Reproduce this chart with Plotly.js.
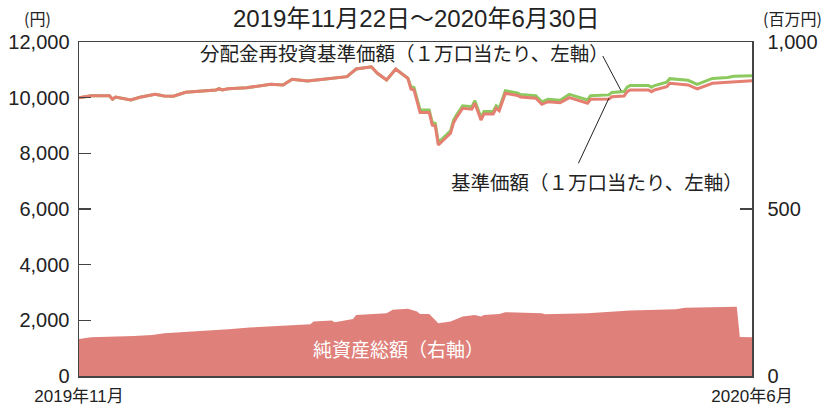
<!DOCTYPE html>
<html>
<head>
<meta charset="utf-8">
<script src="https://cdn.plot.ly/plotly-3.0.1.min.js"></script>
<style>html,body{margin:0;padding:0;background:#fff;}#chart{width:825px;height:410px;}</style>
</head>
<body>
<div id="chart"></div>
<script>
// 基準価額（円, 左軸）
const navDates = ['2019-11-22','2019-11-26','2019-12-02','2019-12-03','2019-12-04','2019-12-09','2019-12-12','2019-12-17','2019-12-20','2019-12-23','2019-12-27','2020-01-02','2020-01-06','2020-01-07','2020-01-08','2020-01-10','2020-01-16','2020-01-24','2020-01-28','2020-01-31','2020-02-05','2020-02-11','2020-02-18','2020-02-21','2020-02-26','2020-02-28','2020-03-02','2020-03-05','2020-03-09','2020-03-10','2020-03-11','2020-03-13','2020-03-16','2020-03-17','2020-03-18','2020-03-19','2020-03-23','2020-03-24','2020-03-25','2020-03-27','2020-03-30','2020-03-31','2020-04-02','2020-04-03','2020-04-06','2020-04-07','2020-04-08','2020-04-10','2020-04-14','2020-04-15','2020-04-20','2020-04-22','2020-04-24','2020-04-28','2020-05-01','2020-05-07','2020-05-08','2020-05-14','2020-05-15','2020-05-19','2020-05-20','2020-05-21','2020-05-27','2020-05-28','2020-05-29','2020-06-02','2020-06-03','2020-06-09','2020-06-12','2020-06-17','2020-06-22','2020-06-24','2020-06-30'];
const navValues = [10000,10070,10070,9942,10024,9917,10014,10121,10060,10050,10193,10240,10276,10322,10276,10322,10358,10480,10455,10660,10600,10671,10754,11030,11110,10876,10635,11030,10696,10312,10276,9468,9468,9018,8983,8300,8720,9101,9295,9619,9583,9798,9198,9414,9414,9619,9532,10157,10078,10024,9978,9762,9856,9820,10000,9798,9942,9953,10035,10060,10215,10276,10276,10215,10276,10395,10517,10456,10312,10517,10553,10590,10610];
// 分配金再投資基準価額（円, 左軸）
const reinvValues = [10000,10070,10070,9942,10024,9917,10014,10121,10060,10050,10193,10240,10276,10322,10276,10322,10358,10480,10455,10660,10600,10671,10754,11030,11110,10876,10635,11030,10696,10390,10366,9558,9558,9108,9073,8390,8810,9191,9385,9709,9673,9888,9288,9504,9504,9709,9622,10247,10168,10114,10068,9852,9946,9910,10120,9920,10070,10100,10190,10220,10375,10436,10436,10375,10436,10560,10682,10625,10480,10690,10725,10772,10790];
// 純資産総額（百万円, 右軸）
const assetDates = ['2019-11-22','2019-11-26','2019-12-10','2019-12-16','2019-12-20','2019-12-30','2020-01-10','2020-01-17','2020-01-28','2020-02-06','2020-02-07','2020-02-13','2020-02-14','2020-02-20','2020-02-21','2020-02-28','2020-03-02','2020-03-04','2020-03-09','2020-03-12','2020-03-13','2020-03-16','2020-03-19','2020-03-23','2020-03-27','2020-03-31','2020-04-02','2020-04-03','2020-04-08','2020-04-10','2020-04-22','2020-04-23','2020-05-07','2020-05-21','2020-06-05','2020-06-08','2020-06-25','2020-06-26','2020-06-30'];
const assetValues = [111,116,120,123,128,133,140,145,150,155,163,166,161,171,183,188,188,198,201,193,186,186,158,163,178,183,178,183,186,191,188,185,188,196,200,204,207,117,116];

const xTickVals = ['2019-11-22','2020-06-30'];
const xTickText = ['2019年11月','2020年6月'];
const yTickVals = [0,2000,4000,6000,8000,10000,12000];
const y2TickVals = [0,500,1000];

const jp = '"Noto Sans CJK JP", "Noto Sans", sans-serif';
const num = '"Liberation Sans", Arial, "Noto Sans CJK JP", sans-serif';

const traces = [
  {x: assetDates, y: assetValues, yaxis: 'y2', type: 'scatter', mode: 'lines',
   fill: 'tozeroy', fillcolor: '#E0807A', line: {width: 0, color: '#E0807A'}, hoverinfo: 'skip'},
  {x: navDates, y: reinvValues, type: 'scatter', mode: 'lines',
   line: {color: '#8CC95E', width: 3}},
  {x: navDates, y: navValues, type: 'scatter', mode: 'lines',
   line: {color: '#E57F72', width: 3}}
];

const layout = {
  width: 825, height: 410,
  margin: {l: 79, r: 73, t: 42, b: 34},
  paper_bgcolor: '#fff', plot_bgcolor: '#fff',
  showlegend: false,
  separators: '.,',
  font: {family: num, color: '#222', size: 16},
  xaxis: {type: 'date', range: ['2019-11-22','2020-06-30'], tickvals: xTickVals, ticktext: xTickText,
    showgrid: false, zeroline: false, showline: true, mirror: true, linecolor: '#444', linewidth: 1.5,
    ticks: '', tickfont: {family: num, size: 17, color: '#222'}, ticklabelstandoff: 4},
  yaxis: {range: [0, 12000], tickvals: yTickVals, tickformat: ',d', showgrid: false, zeroline: false,
    showline: true, linecolor: '#444', linewidth: 1.5, ticks: 'inside', ticklen: 12, tickcolor: '#444', tickwidth: 1.5,
    tickfont: {family: num, size: 20, color: '#222'}, ticklabelstandoff: 4},
  yaxis2: {range: [0, 1000], overlaying: 'y', side: 'right', tickvals: y2TickVals, tickformat: ',d',
    showgrid: false, zeroline: false, showline: true, linecolor: '#444', linewidth: 1.5,
    ticks: 'inside', ticklen: 12, tickcolor: '#444', tickwidth: 1.5,
    tickfont: {family: num, size: 20, color: '#222'}, ticklabelstandoff: 10},
  annotations: [
    {text: '2019年11月22日～2020年6月30日', xref: 'paper', yref: 'paper', x: 0.5, y: 1, yshift: 24, yanchor: 'middle',
     showarrow: false, font: {family: num, size: 24, color: '#222'}},
    {text: '(円)', xref: 'paper', yref: 'paper', x: 0, xshift: -57, y: 1, yshift: 24, xanchor: 'left', yanchor: 'middle',
     showarrow: false, font: {family: jp, size: 16, color: '#222'}},
    {text: '(百万円)', xref: 'paper', yref: 'paper', x: 1, xshift: 9, y: 1, yshift: 24, xanchor: 'left', yanchor: 'middle',
     showarrow: false, font: {family: jp, size: 16, color: '#222'}},
    {text: '分配金再投資基準価額（１万口当たり、左軸）', xref: 'x', yref: 'y', x: '2020-03-08', y: 11640,
     showarrow: false, font: {family: jp, size: 19.5, color: '#222'}},
    {text: '基準価額（１万口当たり、左軸）', xref: 'x', yref: 'y', x: '2020-05-10', y: 7006,
     showarrow: false, font: {family: jp, size: 19.5, color: '#222'}},
    {text: '純資産総額（右軸）', xref: 'x', yref: 'y2', x: '2020-03-06', y: 81,
     showarrow: false, font: {family: jp, size: 19, color: '#fff'}}
  ],
  shapes: [
    {type: 'line', xref: 'x', yref: 'y', x0: '2020-05-12', y0: 11498, x1: '2020-05-18', y1: 10251,
     line: {color: '#222', width: 1}},
    {type: 'line', xref: 'x', yref: 'y', x0: '2020-05-14', y0: 9978, x1: '2020-05-04', y1: 7642,
     line: {color: '#222', width: 1}}
  ]
};

Plotly.newPlot('chart', traces, layout, {displayModeBar: false, staticPlot: true});
</script>
</body>
</html>
